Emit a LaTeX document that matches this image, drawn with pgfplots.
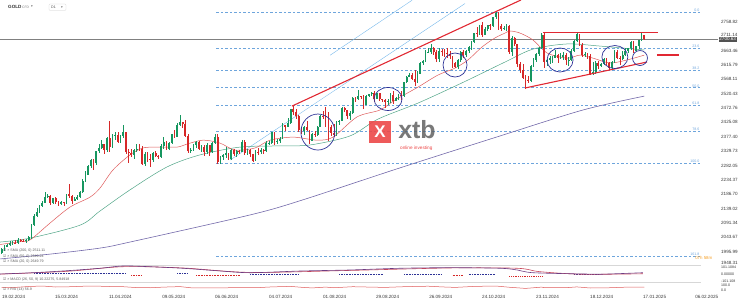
\documentclass[border=0pt]{standalone}
\usepackage{fontspec}
\setmainfont{Liberation Sans}
\newfontfamily\dejavu{DejaVu Sans}
\usepackage{pgfplots}
\usepackage{pgfplotstable}
\pgfplotsset{compat=1.18}
\definecolor{cgreen}{RGB}{22,150,95}
\definecolor{cred}{RGB}{214,40,40}
\definecolor{sma20}{RGB}{222,90,90}
\definecolor{sma50}{RGB}{80,165,135}
\definecolor{sma200}{RGB}{115,105,170}
\definecolor{fib}{RGB}{110,165,220}
\definecolor{chan}{RGB}{120,185,235}
\definecolor{navy}{RGB}{45,50,150}
\definecolor{trend}{RGB}{225,40,50}
\definecolor{txt}{RGB}{55,55,55}
\definecolor{sep}{RGB}{215,215,215}
\definecolor{macdp}{RGB}{110,60,130}
\definecolor{macdr}{RGB}{200,70,90}
\definecolor{xtbred}{RGB}{236,72,72}
\definecolor{orng}{RGB}{245,160,40}
\newcommand\tk{\fontsize{4.6}{5}\selectfont}
\newcommand\sm{\fontsize{3.6}{4}\selectfont}
\pgfplotstableread{
i O H L C
0 1992 2009 1990 2004
1 2004 2017 2000 2013
2 2013 2022 2011 2017
3 2017 2031 2015 2024
4 2024 2031 2019 2026
5 2026 2035 2020 2024
6 2024 2041 2022 2035
7 2035 2039 2027 2031
8 2031 2038 2027 2030
9 2030 2038 2026 2034
10 2034 2049 2031 2044
11 2044 2088 2039 2083
12 2083 2120 2080 2114
13 2114 2141 2110 2128
14 2128 2152 2125 2148
15 2148 2165 2145 2159
16 2159 2195 2157 2179
17 2179 2189 2175 2182
18 2182 2184 2150 2158
19 2158 2175 2155 2174
20 2174 2179 2155 2162
21 2162 2165 2146 2155
22 2155 2163 2152 2160
23 2160 2162 2146 2157
24 2157 2187 2153 2186
25 2186 2222 2175 2181
26 2181 2185 2155 2165
27 2165 2176 2164 2172
28 2172 2184 2168 2179
29 2179 2196 2173 2194
30 2194 2236 2190 2230
31 2230 2265 2228 2250
32 2250 2282 2249 2280
33 2280 2305 2272 2300
34 2300 2305 2268 2290
35 2290 2331 2282 2329
36 2329 2354 2325 2339
37 2339 2365 2335 2352
38 2352 2354 2319 2333
39 2333 2378 2327 2372
40 2372 2431 2326 2344
41 2344 2385 2340 2383
42 2381 2392 2367 2384
43 2383 2392 2355 2361
44 2361 2384 2358 2379
45 2379 2417 2373 2392
46 2392 2392 2320 2327
47 2327 2335 2291 2322
48 2322 2337 2309 2316
49 2316 2338 2305 2332
50 2332 2352 2327 2337
51 2337 2353 2330 2336
52 2336 2346 2285 2286
53 2286 2326 2280 2320
54 2320 2326 2294 2303
55 2303 2320 2277 2301
56 2301 2326 2292 2323
57 2323 2330 2310 2314
58 2314 2318 2303 2309
59 2309 2352 2306 2346
60 2346 2378 2336 2360
61 2360 2364 2333 2336
62 2336 2360 2334 2358
63 2358 2387 2354 2385
64 2385 2400 2375 2377
65 2377 2422 2375 2415
66 2415 2450 2413 2425
67 2425 2427 2407 2421
68 2421 2432 2375 2379
69 2379 2386 2325 2329
70 2329 2340 2323 2334
71 2334 2354 2330 2351
72 2351 2364 2340 2360
73 2360 2362 2335 2338
74 2338 2350 2326 2343
75 2343 2349 2314 2327
76 2327 2355 2320 2349
77 2349 2350 2315 2326
78 2326 2360 2323 2355
79 2355 2388 2352 2375
80 2375 2387 2287 2294
81 2294 2314 2286 2311
82 2311 2320 2299 2316
83 2316 2342 2306 2324
84 2324 2325 2299 2303
85 2303 2335 2300 2333
86 2333 2335 2315 2319
87 2319 2333 2309 2329
88 2329 2333 2321 2328
89 2328 2365 2327 2360
90 2360 2368 2318 2322
91 2322 2336 2318 2334
92 2334 2336 2310 2319
93 2319 2321 2293 2298
94 2298 2332 2296 2327
95 2327 2339 2318 2326
96 2326 2339 2319 2332
97 2332 2338 2319 2330
98 2330 2364 2328 2356
99 2354 2364 2350 2357
100 2356 2392 2353 2392
101 2392 2393 2351 2359
102 2359 2370 2353 2364
103 2364 2376 2356 2371
104 2371 2424 2369 2415
105 2415 2417 2395 2411
106 2411 2440 2408 2422
107 2422 2469 2420 2469
108 2469 2483 2448 2459
109 2459 2470 2437 2445
110 2445 2449 2393 2400
111 2400 2408 2385 2396
112 2396 2412 2384 2409
113 2409 2431 2395 2398
114 2398 2400 2353 2364
115 2364 2390 2362 2387
116 2387 2397 2378 2384
117 2384 2412 2380 2410
118 2410 2451 2408 2447
119 2447 2462 2437 2446
120 2446 2477 2410 2443
121 2443 2460 2364 2409
122 2409 2415 2380 2390
123 2390 2420 2377 2382
124 2382 2430 2380 2427
125 2427 2433 2415 2431
126 2431 2475 2428 2472
127 2472 2476 2460 2465
128 2465 2466 2435 2447
129 2447 2463 2432 2456
130 2456 2508 2454 2507
131 2507 2510 2492 2504
132 2504 2531 2500 2514
133 2514 2514 2501 2512
134 2512 2515 2470 2484
135 2484 2517 2483 2512
136 2512 2520 2508 2518
137 2518 2525 2511 2524
138 2524 2529 2494 2504
139 2504 2524 2502 2521
140 2521 2524 2497 2503
141 2503 2504 2493 2500
142 2500 2504 2472 2493
143 2493 2503 2484 2495
144 2495 2524 2490 2516
145 2516 2529 2485 2497
146 2497 2508 2495 2506
147 2506 2518 2500 2516
148 2516 2529 2500 2512
149 2512 2560 2508 2558
150 2558 2579 2556 2577
151 2577 2590 2575 2582
152 2582 2589 2565 2570
153 2570 2600 2547 2559
154 2559 2595 2556 2587
155 2587 2625 2585 2622
156 2622 2632 2614 2628
157 2628 2664 2626 2657
158 2655 2670 2654 2658
159 2657 2685 2653 2672
160 2672 2674 2650 2658
161 2658 2664 2625 2634
162 2634 2673 2624 2662
163 2662 2667 2645 2658
164 2658 2667 2642 2656
165 2656 2673 2640 2653
166 2653 2661 2636 2644
167 2644 2646 2605 2622
168 2622 2624 2604 2608
169 2608 2635 2603 2631
170 2631 2661 2626 2657
171 2657 2666 2639 2649
172 2649 2665 2642 2662
173 2662 2677 2656 2674
174 2674 2696 2666 2692
175 2692 2722 2689 2721
176 2721 2740 2709 2719
177 2720 2749 2715 2748
178 2748 2758 2708 2715
179 2715 2741 2714 2736
180 2736 2749 2727 2747
181 2747 2750 2730 2743
182 2743 2775 2740 2774
183 2774 2790 2768 2788
184 2788 2790 2731 2744
185 2744 2750 2727 2736
186 2736 2746 2730 2738
187 2738 2750 2728 2743
188 2743 2749 2652 2659
189 2659 2710 2644 2706
190 2706 2709 2677 2684
191 2684 2685 2610 2618
192 2618 2626 2590 2598
193 2598 2618 2570 2572
194 2572 2581 2537 2565
195 2565 2578 2557 2563
196 2563 2615 2560 2612
197 2612 2639 2607 2631
198 2631 2655 2626 2651
199 2651 2675 2646 2670
200 2670 2721 2668 2716
201 2716 2721 2605 2625
202 2625 2636 2611 2633
203 2633 2644 2620 2637
204 2637 2644 2622 2638
205 2638 2665 2637 2650
206 2650 2653 2623 2639
207 2639 2656 2634 2643
208 2643 2657 2632 2650
209 2650 2654 2614 2632
210 2632 2642 2613 2633
211 2633 2667 2629 2660
212 2660 2699 2657 2694
213 2694 2726 2690 2718
214 2718 2719 2679 2681
215 2681 2687 2641 2648
216 2648 2657 2641 2652
217 2652 2655 2636 2646
218 2646 2651 2583 2586
219 2586 2626 2583 2593
220 2593 2630 2584 2622
221 2622 2629 2602 2612
222 2612 2621 2609 2617
223 2617 2639 2616 2634
224 2634 2639 2616 2621
225 2621 2624 2597 2606
226 2606 2629 2603 2624
227 2624 2664 2622 2658
228 2658 2666 2637 2640
229 2640 2644 2614 2636
230 2636 2662 2632 2649
231 2649 2670 2645 2662
232 2662 2673 2656 2670
233 2670 2694 2665 2690
234 2690 2694 2656 2662
235 2662 2678 2660 2677
236 2677 2698 2668 2697
237 2697 2724 2695 2714
238 2714 2716 2698 2700.63
}\ohlc
\begin{document}
\begin{tikzpicture}
\begin{axis}[at={(0,0)}, anchor=north west, scale only axis, width=746bp, height=265bp,
  xmin=-0.63, xmax=275.67, ymin=1951.9, ymax=2830.8, hide axis, clip=false]
% fibonacci levels
\addplot[fib, line width=0.45bp, dash pattern=on 2.5bp off 2bp] coordinates {(79.5,2790) (258.9,2790)};
\addplot[fib, line width=0.45bp, dash pattern=on 2.5bp off 2bp] coordinates {(79.5,2672) (258.9,2672)};
\addplot[fib, line width=0.45bp, dash pattern=on 2.5bp off 2bp] coordinates {(79.5,2599) (258.9,2599)};
\addplot[fib, line width=0.45bp, dash pattern=on 2.5bp off 2bp] coordinates {(79.5,2540) (258.9,2540)};
\addplot[fib, line width=0.45bp, dash pattern=on 2.5bp off 2bp] coordinates {(79.5,2481) (258.9,2481)};
\addplot[fib, line width=0.45bp, dash pattern=on 2.5bp off 2bp] coordinates {(79.5,2397) (258.9,2397)};
\addplot[fib, line width=0.45bp, dash pattern=on 2.5bp off 2bp] coordinates {(79.5,2290) (258.9,2290)};
\addplot[fib, line width=0.45bp, dash pattern=on 2.5bp off 2bp] coordinates {(79.5,1981) (258.9,1981)};
\node[fib, font=\sm, anchor=south east, inner sep=0.4bp] at (axis cs:258.6,2790) {0.0};
\node[fib, font=\sm, anchor=south east, inner sep=0.4bp] at (axis cs:258.6,2672) {23.6};
\node[fib, font=\sm, anchor=south east, inner sep=0.4bp] at (axis cs:258.6,2599) {38.2};
\node[fib, font=\sm, anchor=south east, inner sep=0.4bp] at (axis cs:258.6,2540) {50.0};
\node[fib, font=\sm, anchor=south east, inner sep=0.4bp] at (axis cs:258.6,2481) {61.8};
\node[fib, font=\sm, anchor=south east, inner sep=0.4bp] at (axis cs:258.6,2397) {78.6};
\node[fib, font=\sm, anchor=south east, inner sep=0.4bp] at (axis cs:258.6,2290) {100.0};
\node[fib, font=\sm, anchor=south east, inner sep=0.4bp] at (axis cs:258.6,1981) {161.8};
% current price line
\addplot[gray, line width=0.55bp] coordinates {(-0.63,2700.63) (265.3,2700.63)};
% channel lines
\addplot[chan, line width=0.4bp] coordinates {(84.6,2300) (171.6,2819)};
\addplot[chan, line width=0.4bp] coordinates {(121.6,2647.5) (152,2830)};
% moving averages
\addplot[sma200, line width=0.6bp, smooth] coordinates {(-0.6,1972) (17.9,1988) (36.4,2008) (47.5,2028) (92,2118) (111.2,2167) (147.5,2274) (184.6,2380) (215.3,2466) (238,2512)};
\addplot[sma50, line width=0.5bp, smooth] coordinates {(-0.6,2028) (10.5,2041) (29,2084) (36.4,2131) (47.5,2201) (61.2,2277) (73.4,2317) (88.3,2343) (103.1,2347) (114.2,2350) (129,2380) (139.4,2436) (154.2,2489) (170.5,2556) (186.4,2625) (196.8,2668) (209.4,2685) (221.6,2678) (238,2665)};
\addplot[sma20, line width=0.5bp, smooth] coordinates {(-0.6,2020) (6.8,2029) (10.5,2035) (17.9,2091) (25.3,2144) (32.7,2177) (36.4,2207) (41.2,2267) (47.5,2317) (52.3,2340) (57.5,2343) (65,2343) (68.6,2353) (74.6,2366) (80.9,2356) (86.4,2333) (93.8,2340) (99.4,2366) (107.9,2376) (116.8,2366) (122.7,2376) (131.6,2443) (140.1,2466) (145.7,2499) (154.2,2542) (161.6,2582) (167.9,2605) (172.7,2632) (177.9,2675) (182.7,2705) (186.4,2721) (188.3,2728) (192,2721) (196.8,2698) (202,2655) (209.4,2638) (214.2,2648) (219,2638) (225.3,2622) (231.6,2632) (238,2648)};
% candles: green wicks and bodies
\addplot[draw=none, mark=none, restrict y to domain=1900:2900, error bars/.cd, y dir=both, y explicit, error mark=none, error bar style={draw=cgreen, line width=0.45bp}]
  table[x=i, y expr={\thisrow{C}>=\thisrow{O} ? \thisrow{C} : 0}, y error plus expr={\thisrow{H}-\thisrow{C}}, y error minus expr={\thisrow{C}-\thisrow{L}}] {\ohlc};
\addplot[draw=none, mark=none, restrict y to domain=1900:2900, error bars/.cd, y dir=both, y explicit, error mark=none, error bar style={draw=cgreen, line width=1.8bp}]
  table[x=i, y expr={\thisrow{C}>=\thisrow{O} ? \thisrow{C} : 0}, y error plus expr={0}, y error minus expr={\thisrow{C}-\thisrow{O}}] {\ohlc};
% red
\addplot[draw=none, mark=none, restrict y to domain=1900:2900, error bars/.cd, y dir=both, y explicit, error mark=none, error bar style={draw=cred, line width=0.45bp}]
  table[x=i, y expr={\thisrow{C}<\thisrow{O} ? \thisrow{C} : 0}, y error plus expr={\thisrow{H}-\thisrow{C}}, y error minus expr={\thisrow{C}-\thisrow{L}}] {\ohlc};
\addplot[draw=none, mark=none, restrict y to domain=1900:2900, error bars/.cd, y dir=both, y explicit, error mark=none, error bar style={draw=cred, line width=1.8bp}]
  table[x=i, y expr={\thisrow{C}<\thisrow{O} ? \thisrow{C} : 0}, y error plus expr={\thisrow{O}-\thisrow{C}}, y error minus expr={0}] {\ohlc};
% trend lines
\addplot[trend, line width=1.1bp] coordinates {(107.5,2478.9) (192.3,2830.8)};
\addplot[trend, line width=1.1bp] coordinates {(200.5,2723) (243.1,2723)};
\addplot[trend, line width=1.1bp] coordinates {(193.8,2538.9) (239,2625.1)};
\addplot[trend, line width=2.2bp] coordinates {(242.7,2648.4) (250.8,2648.4)};
% circles
\draw[navy, line width=0.7bp] (axis cs:117.1,2392.9) ellipse [x radius=17bp, y radius=18bp];
\draw[navy, line width=0.7bp] (axis cs:143.1,2502.5) ellipse [x radius=14bp, y radius=11.5bp];
\draw[navy, line width=0.7bp] (axis cs:167.9,2615.2) ellipse [x radius=12bp, y radius=12bp];
\draw[navy, line width=0.7bp] (axis cs:206.8,2631.8) ellipse [x radius=13bp, y radius=12bp];
\draw[navy, line width=0.7bp] (axis cs:227.1,2641.7) ellipse [x radius=13bp, y radius=11.5bp];
\draw[navy, line width=0.7bp] (axis cs:236.4,2638.4) ellipse [x radius=7.5bp, y radius=7.5bp];
% xtb watermark
\node[fill=xtbred, minimum size=22bp, inner sep=0pt, text=white, font=\fontsize{17}{17}\bfseries, opacity=0.9, text opacity=1] at (axis cs:140.1,2393) {X};
\node[anchor=base west, inner sep=0pt, text=black!62, font=\fontsize{25}{25}\bfseries, opacity=0.85] at (axis cs:146.8,2372.7) {xtb};
\node[anchor=north west, inner sep=0pt, text=xtbred, font=\fontsize{4.7}{5}\selectfont] at (axis cs:147.5,2348) {online investing};
% price labels
\node[anchor=west, inner sep=0pt, text=txt, font=\tk] at (axis cs:266.4,2758.82) {2758.82};
\node[anchor=west, inner sep=0pt, text=txt, font=\tk] at (axis cs:266.4,2713.5) {2711.14};
\node[anchor=west, inner sep=0pt, text=txt, font=\tk] at (axis cs:266.4,2663.46) {2663.46};
\node[anchor=west, inner sep=0pt, text=txt, font=\tk] at (axis cs:266.4,2615.79) {2615.79};
\node[anchor=west, inner sep=0pt, text=txt, font=\tk] at (axis cs:266.4,2568.11) {2568.11};
\node[anchor=west, inner sep=0pt, text=txt, font=\tk] at (axis cs:266.4,2520.43) {2520.43};
\node[anchor=west, inner sep=0pt, text=txt, font=\tk] at (axis cs:266.4,2472.76) {2472.76};
\node[anchor=west, inner sep=0pt, text=txt, font=\tk] at (axis cs:266.4,2425.08) {2425.08};
\node[anchor=west, inner sep=0pt, text=txt, font=\tk] at (axis cs:266.4,2377.40) {2377.40};
\node[anchor=west, inner sep=0pt, text=txt, font=\tk] at (axis cs:266.4,2329.73) {2329.73};
\node[anchor=west, inner sep=0pt, text=txt, font=\tk] at (axis cs:266.4,2282.05) {2282.05};
\node[anchor=west, inner sep=0pt, text=txt, font=\tk] at (axis cs:266.4,2234.37) {2234.37};
\node[anchor=west, inner sep=0pt, text=txt, font=\tk] at (axis cs:266.4,2186.70) {2186.70};
\node[anchor=west, inner sep=0pt, text=txt, font=\tk] at (axis cs:266.4,2139.02) {2139.02};
\node[anchor=west, inner sep=0pt, text=txt, font=\tk] at (axis cs:266.4,2091.34) {2091.34};
\node[anchor=west, inner sep=0pt, text=txt, font=\tk] at (axis cs:266.4,2043.67) {2043.67};
\node[anchor=west, inner sep=0pt, text=txt, font=\tk] at (axis cs:266.4,1995.99) {1995.99};
\node[anchor=west, inner sep=0pt, text=txt, font=\tk] at (axis cs:266.4,1958) {1948.31};
\node[anchor=west, inner sep=0.7bp, fill=black!68, text=white, font=\tk] at (axis cs:265.5,2700.63) {2700.63};
\node[anchor=west, inner sep=0pt, text=orng, font=\fontsize{4.4}{5}\selectfont] at (axis cs:256.8,1975) {07h 58m};
% date labels
\node[anchor=west, inner sep=0pt, text=txt, font=\tk] at (axis cs:0.1,1845.7) {19.02.2024};
\node[anchor=west, inner sep=0pt, text=txt, font=\tk] at (axis cs:19.7,1845.7) {15.03.2024};
\node[anchor=west, inner sep=0pt, text=txt, font=\tk] at (axis cs:39.7,1845.7) {11.04.2024};
\node[anchor=west, inner sep=0pt, text=txt, font=\tk] at (axis cs:59.4,1845.7) {09.05.2024};
\node[anchor=west, inner sep=0pt, text=txt, font=\tk] at (axis cs:79.0,1845.7) {06.06.2024};
\node[anchor=west, inner sep=0pt, text=txt, font=\tk] at (axis cs:99.0,1845.7) {04.07.2024};
\node[anchor=west, inner sep=0pt, text=txt, font=\tk] at (axis cs:119.0,1845.7) {01.08.2024};
\node[anchor=west, inner sep=0pt, text=txt, font=\tk] at (axis cs:138.6,1845.7) {29.08.2024};
\node[anchor=west, inner sep=0pt, text=txt, font=\tk] at (axis cs:158.3,1845.7) {26.09.2024};
\node[anchor=west, inner sep=0pt, text=txt, font=\tk] at (axis cs:177.9,1845.7) {24.10.2024};
\node[anchor=west, inner sep=0pt, text=txt, font=\tk] at (axis cs:197.9,1845.7) {23.11.2024};
\node[anchor=west, inner sep=0pt, text=txt, font=\tk] at (axis cs:217.9,1845.7) {18.12.2024};
\node[anchor=west, inner sep=0pt, text=txt, font=\tk] at (axis cs:237.5,1845.7) {17.01.2025};
\node[anchor=west, inner sep=0pt, text=txt, font=\tk] at (axis cs:256.8,1845.7) {06.02.2025};
\end{axis}
% MACD panel
\begin{axis}[at={(0,-265bp)}, anchor=north west, scale only axis, width=746bp, height=18bp,
  xmin=-0.63, xmax=275.67, ymin=-114.6, ymax=128, hide axis, clip=false]
\addplot[sep, line width=0.4bp] coordinates {(-0.63,121) (258.9,121)};
\addplot[sep, line width=0.4bp] coordinates {(-0.63,-110) (258.9,-110)};
\addplot[navy, line width=0.6bp, densely dotted] coordinates {(12,22) (46,22)};
\addplot[navy, line width=0.6bp, densely dotted] coordinates {(65,10) (69,10)};
\addplot[navy, line width=0.6bp, densely dotted] coordinates {(92,8) (110,8)};
\addplot[navy, line width=0.6bp, densely dotted] coordinates {(125,8) (141,8)};
\addplot[navy, line width=0.6bp, densely dotted] coordinates {(149,8) (163,8)};
\addplot[navy, line width=0.6bp, densely dotted] coordinates {(173,8) (183,8)};
\addplot[navy, line width=0.6bp, densely dotted] coordinates {(212,8) (221,8)};
\addplot[cred, line width=0.6bp, densely dotted] coordinates {(48,-5) (52,-5)};
\addplot[cred, line width=0.6bp, densely dotted] coordinates {(72,-5) (88,-5)};
\addplot[cred, line width=0.6bp, densely dotted] coordinates {(167,-10) (171,-10)};
\addplot[cred, line width=0.8bp, densely dotted] coordinates {(188,-25) (200,-25)};
\addplot[macdr, line width=0.6bp, smooth] coordinates {(-0.6,5) (24.2,43) (44.9,105) (67.1,88) (92,28) (129,55) (166,88) (190.9,84) (199.3,38) (215.3,3) (237.5,10)};
\addplot[macdp, line width=0.6bp, smooth] coordinates {(-0.6,7) (11.6,24) (24.2,51) (36.4,84) (44.9,115) (54.9,105) (67.1,84) (79.7,51) (92,24) (110.5,47) (129,61) (147.5,84) (166,92) (184.6,84) (190.9,61) (196.8,24) (215.3,7) (221.6,3) (237.5,24)};
\node[anchor=west, inner sep=0pt, text=txt, font=\sm] at (axis cs:266.4,101.1) {101.1084};
\node[anchor=west, inner sep=0pt, text=txt, font=\sm] at (axis cs:266.4,0) {0.00000};
\node[anchor=west, inner sep=0pt, text=txt, font=\sm] at (axis cs:266.4,-97) {-101.108};
\end{axis}
% RSI panel
\begin{axis}[at={(0,-283bp)}, anchor=north west, scale only axis, width=746bp, height=10bp,
  xmin=-0.63, xmax=275.67, ymin=-60, ymax=140, hide axis, clip=false]
\addplot[sma20, line width=0.5bp] coordinates {(0,55) (5,52) (10,70) (15,80) (20,60) (25,65) (30,75) (35,78) (40,70) (45,66) (50,48) (55,45) (60,58) (66,68) (70,45) (75,45) (80,42) (85,46) (90,50) (95,48) (100,62) (107,72) (112,50) (115,42) (120,58) (123,45) (130,66) (135,60) (142,52) (150,68) (158,76) (163,62) (168,52) (175,72) (183,80) (188,55) (194,32) (200,58) (201,46) (210,50) (213,62) (218,40) (225,45) (233,60) (238,58)};
\node[anchor=west, inner sep=0pt, text=txt, font=\sm] at (axis cs:266.4,100) {100.0};
\node[anchor=west, inner sep=0pt, text=txt, font=\sm] at (axis cs:266.4,2) {0.0};
\end{axis}
% header and legends
\node[anchor=west, inner sep=0pt, font=\fontsize{4.6}{5}\bfseries, text=black!80] at (8bp,-7bp) {GOLD};
\node[anchor=west, inner sep=0pt, font=\fontsize{3.4}{4}\selectfont, text=black!50] at (22bp,-7bp) {CFD};
\node[anchor=west, inner sep=0pt, font=\fontsize{3.4}{4}\dejavu, text=black!60] at (31bp,-7bp) {▾};
\draw[black!20, line width=0.3bp, rounded corners=1bp] (49bp,-4bp) rectangle (66bp,-10.5bp);
\node[anchor=west, inner sep=0pt, font=\fontsize{3.6}{4}\selectfont, text=black!70] at (51bp,-7.2bp) {D1};
\node[anchor=west, inner sep=0pt, font=\fontsize{3.4}{4}\dejavu, text=black!60] at (61bp,-7.2bp) {▾};
\node[anchor=west, inner sep=0pt, font=\sm, text=black!65] at (3bp,-250.5bp) {{\dejavu ☑} × SMA (200, 0) 2511.11};
\node[anchor=west, inner sep=0pt, font=\sm, text=black!65] at (3bp,-256.3bp) {{\dejavu ☑} × SMA (50, 0) 2649.24};
\node[anchor=west, inner sep=0pt, font=\sm, text=black!65] at (3bp,-261.8bp) {{\dejavu ☑} × SMA (20, 0) 2649.79};
\node[anchor=west, inner sep=0pt, font=\sm, text=black!65] at (3bp,-279.3bp) {{\dejavu ☑} × MACD (26, 50, 9) 10.22275, 5.84918};
\node[anchor=west, inner sep=0pt, font=\sm, text=black!65] at (3bp,-289.8bp) {{\dejavu ☑} × RSI (14) 56.9};
\pgfresetboundingbox
\useasboundingbox (0,0) rectangle (746bp,-303bp);
\end{tikzpicture}
\end{document}
